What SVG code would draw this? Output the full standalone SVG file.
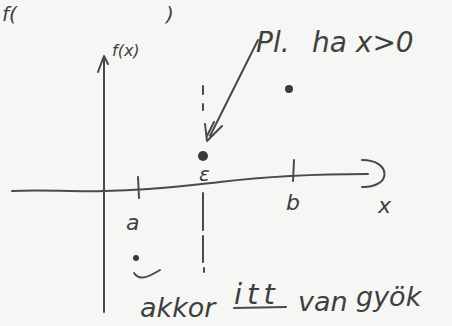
<svg xmlns="http://www.w3.org/2000/svg" width="452" height="326" viewBox="0 0 452 326">
<style>
.ink{fill:none;stroke:#4a4a4a;stroke-width:2;stroke-linecap:round;stroke-linejoin:round}
.txt{fill:#3f3f3f;font-family:"DejaVu Sans","Liberation Sans",sans-serif;font-style:italic}
.dot{fill:#3a3a3a}
</style>
<rect width="452" height="326" fill="#f6f6f4"/>
<text class="txt" x="2" y="21" font-size="20">f(</text>
<text class="txt" x="166" y="21" font-size="20">)</text>
<g id="connectors">
<path class="ink" d="M104,312 L104,58"/>
<path class="ink" d="M98,72 L104,56 L108,64"/>
<path class="ink" d="M12,191 C40,189 70,192 104,191 C160,190 190,185 220,182 C270,176 320,174 368,174"/>
<path class="ink" d="M362,160 C392,160 392,188 362,187"/>
<path class="ink" d="M138,177 L139,198"/>
<path class="ink" d="M294,160 L293,181"/>
<path class="ink" d="M203,86 L203,94 M203,104 L203,110 M203,193 L203,230 M203,236 L203,262 M204,268 L204,272" stroke-width="1.6"/>
<path class="ink" d="M258,40 L210,136 M207,141 L205,124 M207,141 L222,126 M207,136 L214,122" stroke-width="1.6"/>
<path class="ink" d="M134,273 C140,282 150,276 160,270"/>
<path class="ink" d="M234,308 L286,307" stroke-width="1.8"/>
</g>
<g id="y-label"><text class="txt" x="112" y="56" font-size="16">f(x)</text></g>
<g id="x-label"><text class="txt" x="378" y="213" font-size="22">x</text></g>
<g id="a-label"><text class="txt" x="126" y="230" font-size="22">a</text></g>
<g id="b-label"><text class="txt" x="286" y="210" font-size="22">b</text></g>
<g id="point-top"><circle class="dot" cx="289" cy="89" r="4"/></g>
<g id="point-mid"><circle class="dot" cx="203" cy="156" r="5"/><text class="txt" x="199" y="181" font-size="20">ε</text></g>
<g id="point-low"><circle class="dot" cx="136" cy="258" r="3"/></g>
<g id="note-top">
<text class="txt" x="256" y="52" font-size="28">Pl.</text>
<text class="txt" x="312" y="52" font-size="28">ha x&gt;0</text>
</g>
<g id="note-bottom">
<text class="txt" x="140" y="317" font-size="27">akkor</text>
<text class="txt" x="234" y="304" font-size="29" letter-spacing="5">itt</text>
<text class="txt" x="298" y="311" font-size="27">van</text>
<text class="txt" x="356" y="306" font-size="27">gyök</text>
</g>
</svg>
